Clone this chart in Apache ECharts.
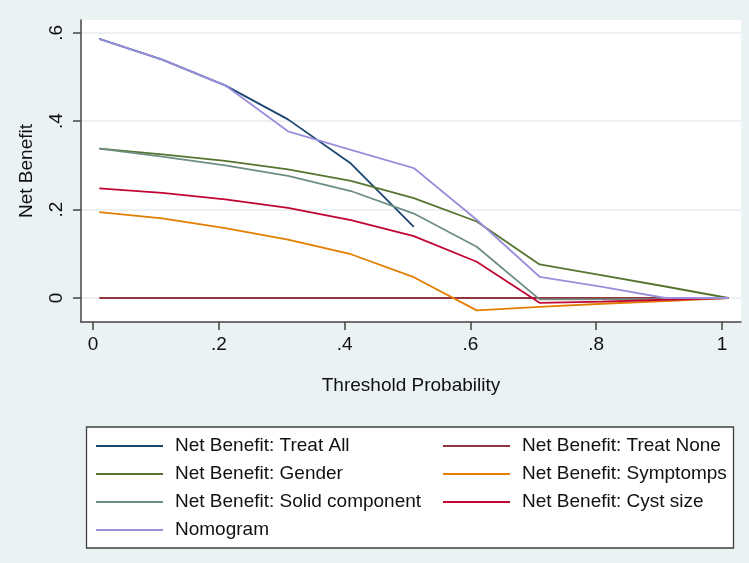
<!DOCTYPE html>
<html lang="en">

<head>
    <title>Decision curve</title>
    <meta charset="utf-8">
    <style>
        html, body {
            margin: 0;
            padding: 0;
            background-color: #eaf2f3;
        }
    </style>
</head>

<body>
    <div id="chart" style="width: 749px; height: 563px"></div>
    <script src="https://cdn.jsdelivr.net/npm/echarts@6/dist/echarts.min.js"></script>
    <script>
        // threshold probabilities
        var thresholds = [0.01, 0.11, 0.21, 0.31, 0.41, 0.51, 0.61, 0.71, 0.81, 0.91, 1.01];

        var treatAll = [0.586, 0.539, 0.481, 0.404, 0.304, 0.161];
        var treatNone = [0, 0, 0, 0, 0, 0, 0, 0, 0, 0, 0];
        var gender = [0.338, 0.325, 0.310, 0.291, 0.265, 0.226, 0.173, 0.076, 0.051, 0.026, 0];
        var symptomps = [0.194, 0.180, 0.158, 0.132, 0.099, 0.047, -0.028, -0.020, -0.013, -0.007, 0];
        var solid = [0.338, 0.320, 0.300, 0.276, 0.242, 0.191, 0.116, -0.003, -0.003, -0.002, 0];
        var cyst = [0.248, 0.238, 0.223, 0.204, 0.176, 0.140, 0.082, -0.011, -0.008, -0.004, 0];
        var nomogram = [0.586, 0.539, 0.481, 0.377, 0.335, 0.294, 0.177, 0.048, 0.025, 0, 0];

        var names = [
            "Net Benefit: Treat All",
            "Net Benefit: Treat None",
            "Net Benefit: Gender",
            "Net Benefit: Symptomps",
            "Net Benefit: Solid component",
            "Net Benefit: Cyst size",
            "Nomogram"
        ];
        var values = [treatAll, treatNone, gender, symptomps, solid, cyst, nomogram];
        var colors = ["#1a476f", "#90353b", "#55752f", "#e37e00", "#6e8e84", "#c10534", "#9a8fdc"];

        var xTicks = [0, 0.2, 0.4, 0.6, 0.8, 1];
        var yTicks = [0, 0.2, 0.4, 0.6];

        function stataNum(v) {
            // Stata drops the leading zero: .2, .4
            var s = String(Math.round(v * 10) / 10);
            return s.replace(/^0\./, ".");
        }

        var font = "Liberation Sans";
        var axisColor = "#444";

        var series = values.map(function (vals, i) {
            return {
                name: names[i],
                type: "line",
                symbol: "none",
                data: vals.map(function (v, j) { return [thresholds[j], v]; }),
                lineStyle: { color: colors[i], width: 1.8 },
                itemStyle: { color: colors[i] },
                emphasis: { disabled: true },
                animation: false
            };
        });

        var legendCommon = {
            orient: "vertical",
            padding: 0,
            icon: "rect",
            itemWidth: 67,
            itemHeight: 2,
            itemGap: 8,
            top: 436,
            selectedMode: false,
            textStyle: {
                fontFamily: font,
                fontSize: 19,
                lineHeight: 20,
                color: "#111",
                padding: [0, 0, 0, 7]
            }
        };

        var chart = echarts.init(document.getElementById("chart"));
        chart.setOption({
            backgroundColor: "#eaf2f3",
            animation: false,
            color: colors,
            grid: {
                left: 81,
                right: 8,
                top: 20,
                bottom: 241,
                show: true,
                backgroundColor: "#fff",
                borderWidth: 0,
                containLabel: false,
                outerBoundsMode: "none"
            },
            xAxis: {
                type: "value",
                min: -0.0191,
                max: 1.0302,
                name: "Threshold Probability",
                nameLocation: "middle",
                nameGap: 54,
                nameTextStyle: { fontFamily: font, fontSize: 19, color: "#111" },
                axisLine: { show: true, onZero: false, lineStyle: { color: axisColor, width: 1.5 } },
                axisTick: { show: true, length: 8, customValues: xTicks, lineStyle: { color: axisColor, width: 1.5 } },
                axisLabel: {
                    customValues: xTicks,
                    margin: 13,
                    fontFamily: font,
                    fontSize: 19,
                    color: "#111",
                    formatter: stataNum
                },
                splitLine: { show: false }
            },
            yAxis: {
                type: "value",
                min: -0.0543,
                max: 0.6288,
                name: "Net Benefit",
                nameLocation: "middle",
                nameGap: 45,
                nameTextStyle: { fontFamily: font, fontSize: 19, color: "#111" },
                axisLine: { show: true, onZero: false, lineStyle: { color: axisColor, width: 1.5 } },
                axisTick: { show: true, length: 8, customValues: yTicks, lineStyle: { color: axisColor, width: 1.5 } },
                axisLabel: {
                    customValues: yTicks,
                    rotate: 90,
                    margin: 15,
                    fontFamily: font,
                    fontSize: 19,
                    color: "#111",
                    formatter: stataNum
                },
                splitLine: { show: true, lineStyle: { color: "#e6eef0", width: 1.5 } }
            },
            legend: [
                Object.assign({}, legendCommon, {
                    left: 96,
                    data: [names[0], names[2], names[4], names[6]]
                }),
                Object.assign({}, legendCommon, {
                    left: 443,
                    data: [names[1], names[3], names[5]]
                })
            ],
            graphic: [{
                type: "rect",
                z: 0,
                shape: { x: 86.5, y: 427, width: 647, height: 121 },
                style: { fill: "#fff", stroke: "#404040", lineWidth: 1.3 }
            }],
            series: series
        });
    </script>
</body>

</html>
